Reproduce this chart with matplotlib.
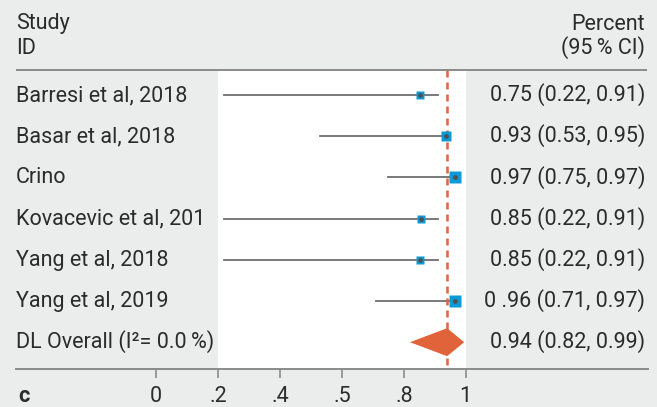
import matplotlib
matplotlib.use("Agg")
import matplotlib.pyplot as plt
from matplotlib.patches import Rectangle, Polygon

# ---- data ----
studies = ["Barresi et al, 2018", "Basar et al, 2018", "Crino",
           "Kovacevic et al, 201", "Yang et al, 2018", "Yang et al, 2019"]
est_drawn = [0.853, 0.936, 0.966, 0.857, 0.853, 0.966]
ci_low = [0.22, 0.53, 0.75, 0.22, 0.22, 0.71]
ci_high = [0.91, 0.95, 0.97, 0.91, 0.91, 0.97]
value_labels = ["0.75 (0.22, 0.91)", "0.93 (0.53, 0.95)", "0.97 (0.75, 0.97)",
                "0.85 (0.22, 0.91)", "0.85 (0.22, 0.91)", "0 .96 (0.71, 0.97)"]
marker_px = [7.5, 10.5, 12.5, 7.5, 9, 11.5]

overall_label = "DL Overall (I\u00b2= 0.0\u2009%)"
overall_est = 0.94
overall_low = 0.82
overall_high = 0.995
overall_text = "0.94 (0.82, 0.99)"

tick_pos = [0, 0.2, 0.4, 0.6, 0.8, 1.0]
tick_labels = ["0", ".2", ".4", ".5", ".8", "1"]

# ---- style ----
BG = "#EBECEC"
BLUE = "#0A9AD7"
ORANGE = "#E0633A"
LINE = "#6E6E6E"
RULE = "#8A8A8A"
TXT = "#2B2B2B"
FONT = ["Roboto", "DejaVu Sans"]
FS = 15.5

W, H = 657, 407
fig = plt.figure(figsize=(W / 100, H / 100), dpi=100)
fig.patch.set_facecolor(BG)

AX_BOTTOM_PX = 369
ax = fig.add_axes([0, (H - AX_BOTTOM_PX) / H, 1, AX_BOTTOM_PX / H])
ax.set_facecolor("none")

X0_PX, PX_PER_UNIT = 156.3, 309.4
ROW0_PX, ROW_PX = 95, 41.2


def px2x(p):
    return (p - X0_PX) / PX_PER_UNIT


def px2y(p):
    return (p - ROW0_PX) / ROW_PX


ax.set_xlim(px2x(0), px2x(W))
ax.set_ylim(px2y(AX_BOTTOM_PX), px2y(0))

BASE_OFF = 6 / ROW_PX  # baseline offset of row text below the row centre

# white plotting region
top_y = px2y(70)
bot_y = px2y(AX_BOTTOM_PX)
ax.add_patch(Rectangle((0.2, top_y), 0.8, bot_y - top_y, facecolor="white",
                       edgecolor="none", zorder=0))

# header rule
ax.plot([px2x(16), px2x(647)], [top_y, top_y], color=RULE, lw=1.4,
        solid_capstyle="butt", zorder=1)

# spines / ticks
for s in ["top", "left", "right"]:
    ax.spines[s].set_visible(False)
ax.spines["bottom"].set_color(RULE)
ax.spines["bottom"].set_linewidth(1.4)
ax.spines["bottom"].set_bounds(px2x(16), px2x(648))
ax.set_yticks([])
ax.set_xticks(tick_pos)
ax.set_xticklabels(tick_labels, fontsize=FS, color=TXT, family=FONT)
ax.tick_params(axis="x", direction="out", length=6.5, width=1.2, color=RULE,
               pad=5.5)

# studies
for i, (lo, hi, e, m) in enumerate(zip(ci_low, ci_high, est_drawn, marker_px)):
    ax.plot([lo, hi], [i, i], color=LINE, lw=1.3, zorder=2)
    ax.plot([e], [i], marker="s", ms=m / 1.389, mfc=BLUE, mec="none", zorder=3)
    ax.plot([e], [i], marker="o", ms=3.4, mfc="#505050", mec="none", zorder=4)
    ax.text(px2x(16), i + BASE_OFF, studies[i], ha="left", va="baseline",
            fontsize=FS, color=TXT, family=FONT)
    ax.text(px2x(645), i + BASE_OFF, value_labels[i], ha="right", va="baseline",
            fontsize=FS, color=TXT, family=FONT)

# overall
yo = len(studies)
hh = 14 / ROW_PX
ax.add_patch(Polygon([(overall_low, yo), (overall_est, yo - hh),
                      (overall_high, yo), (overall_est, yo + hh)],
                     closed=True, facecolor=ORANGE, edgecolor="none", zorder=3))
ax.plot([overall_est, overall_est], [top_y, bot_y], color=ORANGE, lw=1.8,
        dashes=(2.8, 2.0), zorder=2.5)
ax.text(px2x(16), yo + BASE_OFF, overall_label, ha="left", va="baseline",
        fontsize=FS, color=TXT, family=FONT)
ax.text(px2x(645), yo + BASE_OFF, overall_text, ha="right", va="baseline",
        fontsize=FS, color=TXT, family=FONT)

# headers
ax.text(px2x(16), px2y(29.5), "Study", ha="left", va="baseline", fontsize=FS,
        color=TXT, family=FONT)
ax.text(px2x(16), px2y(54), "ID", ha="left", va="baseline", fontsize=FS,
        color=TXT, family=FONT)
ax.text(px2x(645), px2y(29.5), "Percent", ha="right", va="baseline",
        fontsize=FS, color=TXT, family=FONT)
ax.text(px2x(645), px2y(54), "(95\u2009% CI)", ha="right", va="baseline",
        fontsize=FS, color=TXT, family=FONT)

# panel letter
fig.text(18 / W, 1 - 402 / H, "c", ha="left", va="baseline", fontsize=FS,
         fontweight="bold", color=TXT, family=FONT)

fig.savefig("out.png", dpi=100, facecolor=BG)
